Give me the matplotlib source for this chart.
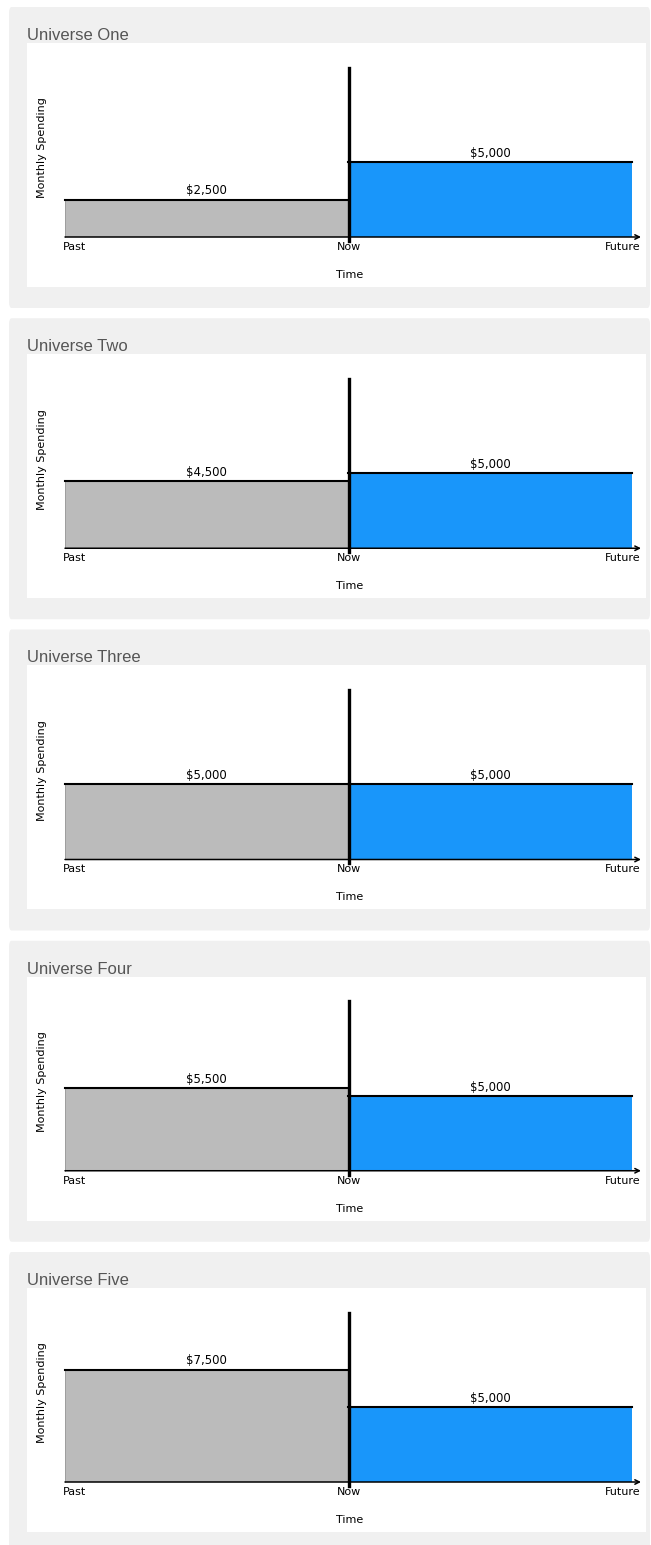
import matplotlib
matplotlib.use('Agg')
import matplotlib.pyplot as plt
from matplotlib.patches import FancyBboxPatch

# values
titles = ['Universe One', 'Universe Two', 'Universe Three', 'Universe Four', 'Universe Five']
past_spending = [2500, 4500, 5000, 5500, 7500]
future_spending = [5000, 5000, 5000, 5000, 5000]
x_labels = ['Past', 'Now', 'Future']

W, H = 651, 1545
GRAY = '#bbbbbb'
BLUE = '#1996fa'
CARD = '#f0f0f0'
NOW_TOP = 11300


def px(x, y):
	"""pixel (from top left) -> figure fraction"""
	return x / W, 1 - y / H


fig = plt.figure(figsize=(W / 100, H / 100), dpi=100)
fig.patch.set_facecolor('white')

for i, title in enumerate(titles):
	top = 7 + 311.25 * i
	# grey card
	x0, y0 = px(9, top + 301)
	card = FancyBboxPatch((x0, y0), (650 - 9) / W, 301 / H,
						  boxstyle='round,pad=0,rounding_size=0.004',
						  transform=fig.transFigure, facecolor=CARD, edgecolor='none', zorder=-5)
	fig.patches.append(card)

	tx, ty = px(27, top + 33)
	fig.text(tx, ty, title, fontsize=12, family='Liberation Sans', color='#555555', va='baseline')

	# white chart area, 619 x 244 px, baseline 50 px above bottom
	ax_left, ax_bottom = px(27, top + 280)
	ax = fig.add_axes([ax_left, ax_bottom, 619 / W, 244 / H])
	ax.set_zorder(1)
	ax.set_facecolor('white')
	ax.set_xlim(-38 / 283.5, 2 + 14 / 283.5)
	ax.set_ylim(-50 / 15 * 1000, 194 / 15 * 1000)
	for s in ax.spines.values():
		s.set_visible(False)
	ax.set_xticks([])
	ax.set_yticks([])

	past = past_spending[i]
	future = future_spending[i]

	ax.fill_between([0, 1], 0, past, color=GRAY, lw=0, zorder=1)
	ax.fill_between([1, 2], 0, future, color=BLUE, lw=0, zorder=1)
	ax.plot([0, 0], [0, past], color='#999999', lw=0.6, zorder=2)
	ax.plot([0, 1], [past, past], color='black', lw=1.5, zorder=3)
	ax.plot([1, 2], [future, future], color='black', lw=1.5, zorder=3)
	ax.plot([1.003, 1.003], [-250, NOW_TOP], color='black', lw=2.4, zorder=4)

	ax.annotate('', xy=(2 + 9 / 283.5, 0), xytext=(0, 0),
				arrowprops=dict(arrowstyle='->', lw=1.1, color='black',
								shrinkA=0, shrinkB=0, mutation_scale=8), zorder=3)

	fs = 8
	ax.annotate(f'${past:,}', (0.5, past), xytext=(0, 2), textcoords='offset pixels',
				ha='center', va='bottom', fontsize=8.5)
	ax.annotate(f'${future:,}', (1.5, future), xytext=(0, 2), textcoords='offset pixels',
				ha='center', va='bottom', fontsize=8.5)

	ax.annotate(x_labels[0], (0, 0), xytext=(-2, -5), textcoords='offset pixels',
				ha='left', va='top', fontsize=fs)
	ax.annotate(x_labels[1], (1, 0), xytext=(1, -5), textcoords='offset pixels',
				ha='center', va='top', fontsize=fs)
	ax.annotate(x_labels[2], (2 + 9 / 283.5, 0), xytext=(0, -5), textcoords='offset pixels',
				ha='right', va='top', fontsize=fs)
	ax.annotate('Time', (1, 0), xytext=(1, -38), textcoords='offset pixels',
				ha='center', va='center', fontsize=fs)
	ax.annotate('Monthly Spending', (0, 0), xycoords='axes fraction', xytext=(15, 139),
				textcoords='offset pixels', rotation=90, ha='center', va='center', fontsize=fs)

fig.savefig('out.png', dpi=100, facecolor='white')
